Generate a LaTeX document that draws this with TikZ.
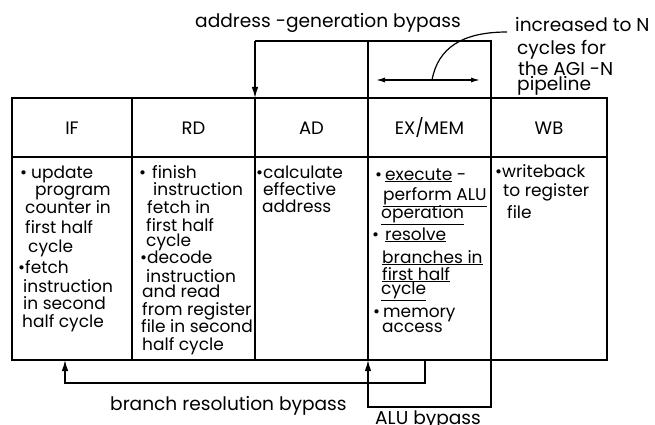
\documentclass[tikz,border=0pt]{standalone}
\usepackage{fontspec}
\setmainfont{Poppins}
\usetikzlibrary{arrows.meta,calc}
\begin{document}
\begin{tikzpicture}[x=1pt,y=-1pt,
  grid/.style={line width=1.3pt},
  conn/.style={line width=1.2pt},
  arr/.style={conn,-{Latex[length=11pt,width=6.5pt]}},
  darr/.style={conn,{Latex[length=9pt,width=5pt]}-{Latex[length=9pt,width=5pt]}},
  txt/.style={inner sep=0pt,anchor=base west,font=\fontsize{17}{18}\selectfont},
  ann/.style={inner sep=0pt,anchor=base west,font=\fontsize{18.6}{18}\selectfont},
  hdr/.style={inner sep=0pt,anchor=center,font=\fontsize{18}{18}\selectfont}]
\useasboundingbox (0,0) rectangle (655,425);
% table geometry
\coordinate (tl) at (12,98);
\coordinate (br) at (607,360);
\foreach \n/\x in {1/132,2/255,3/368,4/491}{
  \coordinate (t\n) at (\x,98);
  \coordinate (b\n) at (\x,360);
}
\draw[grid] (tl) rectangle (br);
\draw[grid] (12,157) -- (607,157);
\foreach \n in {1,...,4}{\draw[grid] (t\n) -- (b\n);}
% headers
\node[hdr] (hIF) at (72,128) {IF};
\node[hdr] (hRD) at (193.5,128) {RD};
\node[hdr] (hAD) at (311.5,128) {AD};
\node[hdr] (hEX) at (429.5,128) {EX/MEM};
\node[hdr] (hWB) at (549,128) {WB};
% body text
\foreach \x/\y/\t [count=\n] in {
  20/178/{\textbullet\hspace{4pt}update},
  35/195/{program},
  25/213/{counter in},
  25/233/{first half},
  28/252/{cycle},
  18/273/{\textbullet fetch},
  23/292/{instruction},
  23/309/{in second},
  22/327/{half cycle}}{
  \node[txt] (if\n) at (\x,\y) {\t};}
\foreach \x/\y/\t [count=\n] in {
  139/178/{\textbullet\hspace{6pt}finish},
  153/195/{instruction},
  147/213/{fetch in},
  146/231/{first half},
  146/246/{cycle},
  140/263/{\textbullet decode},
  146/282/{instruction},
  142/297/{and read},
  142/315/{from register},
  141/332/{file in second},
  142/350/{half cycle}}{
  \node[txt] (rd\n) at (\x,\y) {\t};}
\foreach \x/\y/\t [count=\n] in {
  256/178/{\textbullet calculate},
  263/195/{effective},
  262/212/{address}}{
  \node[txt] (ad\n) at (\x,\y) {\t};}
\foreach \x/\y/\t [count=\n] in {
  375/180/{\textbullet\hspace{3pt}\underline{execute} -},
  383/200/{\underline{perform ALU}},
  381/218/{\underline{operation}},
  372/240/{\textbullet\hspace{6pt}\underline{resolve}},
  382/263/{\underline{branches in}},
  382/280/{\underline{first half}},
  381/294/{\underline{cycle}},
  373/317/{\textbullet\hspace{3pt}memory},
  382/332/{access}}{
  \node[txt] (ex\n) at (\x,\y) {\t};}
\foreach \x/\y/\t [count=\n] in {
  495/177/{\textbullet writeback},
  503/196/{to register},
  507/218/{file}}{
  \node[txt] (wb\n) at (\x,\y) {\t};}
% address-generation bypass
\node[ann] (agb) at (195,28) {address -generation bypass};
\coordinate (agtop1) at (491,41);
\coordinate (agtop2) at (255,41);
\coordinate (agmid) at (368,41);
\draw[conn] (t4) -- (agtop1) -- (agtop2);
\draw[arr] (agtop2) -- (t2);
\draw[conn] (agmid) -- (t3);
% N cycles annotation
\coordinate (dl) at (376,80);
\coordinate (dr) at (480,80);
\coordinate (dm) at (432,80);
\coordinate (cend) at (507,32);
\draw[darr] (dl) -- (dr);
\draw[conn] (dm) .. controls (438,48) and (462,32) .. (cend);
\node[ann] (inc1) at (515,32) {increased to N};
\node[ann] (inc2) at (517,55) {cycles for};
\node[ann] (inc3) at (518,76) {the AGI -N};
\node[ann] (inc4) at (517,91) {pipeline};
% branch resolution bypass
\coordinate (brsrc) at (425,360);
\coordinate (brtgt) at (65,360);
\draw[arr] (brsrc) -- ($(brsrc)+(0,23)$) -| (brtgt);
\node[ann] (brl) at (110,410) {branch resolution bypass};
% ALU bypass
\draw[arr] (b4) -- ($(b4)+(0,47)$) -| (b3);
\node[ann] (alul) at (375,424) {ALU bypass};
\end{tikzpicture}
\end{document}
